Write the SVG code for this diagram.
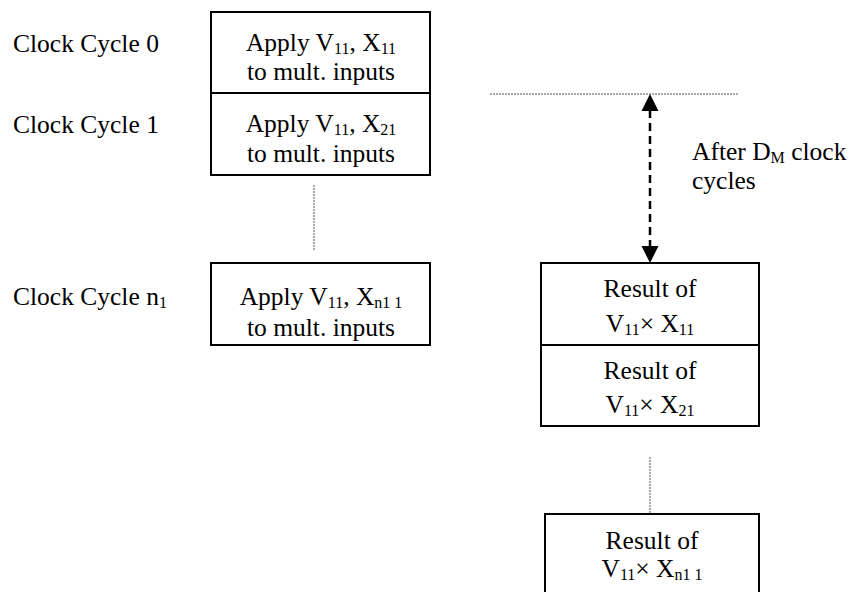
<svg xmlns="http://www.w3.org/2000/svg" width="856" height="592" viewBox="0 0 856 592">
<defs>
<style>
.box{fill:#fff;stroke:#000;stroke-width:2}
.dot{stroke:#555;stroke-width:1;stroke-dasharray:2 1;fill:none}
.dash{stroke:#000;stroke-width:2.5;stroke-dasharray:8 5;fill:none}
</style>
</defs>
<g font-family="'Liberation Serif', 'Times New Roman', serif" font-size="25.5" fill="#000">
<g id="labels">
<text x="13" y="52">Clock Cycle 0</text>
<text x="13" y="133">Clock Cycle 1</text>
<text x="13" y="305">Clock Cycle n<tspan font-size="16" dy="3">1</tspan></text>
<text x="692" y="160">After D<tspan font-size="16" dy="3">M</tspan><tspan dy="-3"> clock</tspan></text>
<text x="692" y="189">cycles</text>
</g>
<g id="connectors">
<line class="dot" x1="314" y1="185" x2="314" y2="251"/>
<line class="dot" x1="490" y1="94" x2="738" y2="94"/>
<line class="dot" x1="650" y1="457" x2="650" y2="514"/>
<line class="dash" x1="650" y1="110" x2="650" y2="247"/>
<path d="M641.5,111 L650,94 L658.5,111 Z" fill="#000"/>
<path d="M641.5,246 L650,263 L658.5,246 Z" fill="#000"/>
</g>
<g id="cycle0">
<rect class="box" x="211" y="12" width="219" height="81"/>
<text text-anchor="middle" x="321" y="51">Apply V<tspan font-size="16" dy="3">11</tspan><tspan dy="-3">, X</tspan><tspan font-size="16" dy="3">11</tspan></text>
<text text-anchor="middle" x="321" y="80">to mult. inputs</text>
</g>
<g id="cycle1">
<rect class="box" x="211" y="93" width="219" height="82"/>
<text text-anchor="middle" x="321" y="132">Apply V<tspan font-size="16" dy="3">11</tspan><tspan dy="-3">, X</tspan><tspan font-size="16" dy="3">21</tspan></text>
<text text-anchor="middle" x="321" y="162">to mult. inputs</text>
</g>
<g id="cyclen1">
<rect class="box" x="211" y="263" width="219" height="82"/>
<text text-anchor="middle" x="321" y="305">Apply V<tspan font-size="16" dy="3">11</tspan><tspan dy="-3">, X</tspan><tspan font-size="16" dy="3">n1 1</tspan></text>
<text text-anchor="middle" x="321" y="336">to mult. inputs</text>
</g>
<g id="result1">
<rect class="box" x="541" y="263" width="218" height="82"/>
<text text-anchor="middle" x="650" y="297">Result of</text>
<text text-anchor="middle" x="650" y="332">V<tspan font-size="16" dy="3">11</tspan><tspan dy="-3">× X</tspan><tspan font-size="16" dy="3">11</tspan></text>
</g>
<g id="result2">
<rect class="box" x="541" y="345" width="218" height="81"/>
<text text-anchor="middle" x="650" y="379">Result of</text>
<text text-anchor="middle" x="650" y="413">V<tspan font-size="16" dy="3">11</tspan><tspan dy="-3">× X</tspan><tspan font-size="16" dy="3">21</tspan></text>
</g>
<g id="resultn">
<rect class="box" x="545" y="514" width="214" height="90"/>
<text text-anchor="middle" x="652" y="549">Result of</text>
<text text-anchor="middle" x="652" y="577">V<tspan font-size="16" dy="3">11</tspan><tspan dy="-3">× X</tspan><tspan font-size="16" dy="3">n1 1</tspan></text>
</g>
</g>
</svg>
